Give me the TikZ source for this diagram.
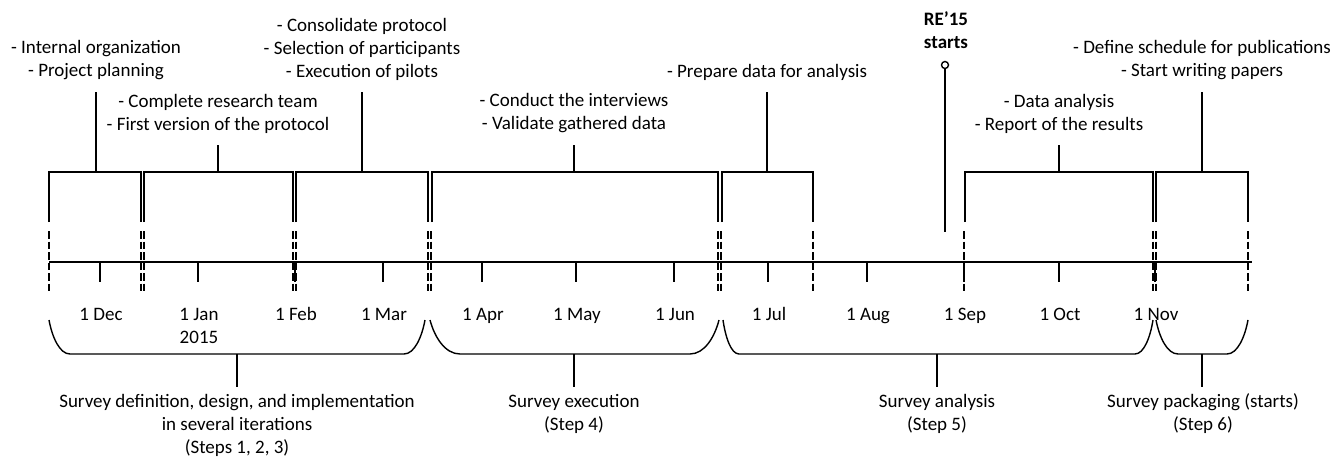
\documentclass[tikz,border=0pt]{standalone}
\usepackage{fontspec}
\setmainfont{Carlito}
\usetikzlibrary{calc}
\begin{document}
\begin{tikzpicture}[x=1pt,y=-1pt,line width=1.4pt,
  lbl/.style={align=center,inner sep=0pt,font=\fontsize{19}{23}\selectfont},
  mlbl/.style={align=center,inner sep=0pt,anchor=base,font=\fontsize{19}{23}\selectfont},
  dsh/.style={dash pattern=on 7.5pt off 3pt},
  tickline/.style={line width=1.4pt},
  bracketline/.style={line width=1.4pt},
  stemline/.style={line width=1.4pt}]
\useasboundingbox (0,0) rectangle (1342,460);

% axis
\coordinate (axL) at (49,262);
\coordinate (axR) at (1252,262);
\draw (axL) -- (axR);

% ticks and month labels
\foreach \x/\n/\t in {100/dec/1 Dec,295/feb/1 Feb,383/mar/1 Mar,482/apr/1 Apr,576/may/1 May,674/jun/1 Jun,768/jul/1 Jul,867/aug/1 Aug,964/sep/1 Sep,1059/oct/1 Oct,1155/nov/1 Nov}{
  \coordinate (tk\n) at (\x,262);
  \coordinate (tb\n) at (\x,282);
  \draw[tickline] (tk\n) -- (tb\n);
  \node[mlbl] (m\n) at (\x+1,320) {\t};
}
\coordinate (tkjan) at (198,262);
\coordinate (tbjan) at (198,282);
\draw[tickline] (tkjan) -- (tbjan);
\node[mlbl] (mjan) at (199,343) {1 Jan\\2015};

% dashed separators
\foreach \x [count=\i] in {49,141,144,293,296,428,431,718,721,813,964,1153,1156,1248}{
  \coordinate (da\i) at (\x,231);
  \coordinate (db\i) at (\x,292);
  \draw[dsh] (da\i) -- (db\i);
}

% top brackets: left, right, stem x, stem top y
\foreach \a/\b/\s/\h [count=\i] in {49/141/96/92,144/293/218/145,296/428/362/92,432/718/574/145,722/813/767/92,965/1153/1059/145,1156/1248/1202/92}{
  \coordinate (bl\i) at (\a,222);
  \coordinate (br\i) at (\b,222);
  \coordinate (bs\i) at (\s,172);
  \coordinate (bt\i) at (\s,\h);
  \draw[bracketline] (bl\i) |- (bs\i) -| (br\i);
  \draw[stemline] (bs\i) -- (bt\i);
}

% top labels
\node[lbl] (t1) at (96,60.5) {- Internal organization\\- Project planning};
\node[lbl] (t2) at (218,113.5) {- Complete research team\\- First version of the protocol};
\node[lbl] (t3) at (362,49) {- Consolidate protocol\\- Selection of participants\\- Execution of pilots};
\node[lbl] (t4) at (574,113.5) {- Conduct the interviews\\- Validate gathered data};
\node[lbl] (t5) at (767,72.5) {- Prepare data for analysis};
\node[lbl] (t6) at (1059,113.5) {- Data analysis\\- Report of the results};
\node[lbl] (t7) at (1202,60.5) {- Define schedule for publications\\- Start writing papers};

% RE'15 milestone
\node[lbl,font=\fontsize{19}{23}\selectfont\bfseries] (re) at (946,30) {RE’15\\starts};
\node[circle,draw,line width=1.4pt,minimum size=7pt,inner sep=0pt] (rec) at (945,65) {};
\coordinate (reb) at (945,232);
\draw (rec) -- (reb);

% bottom braces: left, right, left curve width, right curve width, stem x
\foreach \a/\b/\wl/\wr/\s [count=\i] in {49/425/21/21/237,430/719/30/29/574,723/1153/16/18/937,1156/1248/22/21/1202}{
  \coordinate (cl\i) at (\a,320);
  \coordinate (cr\i) at (\b,320);
  \coordinate (cs\i) at (\s,354);
  \coordinate (ce\i) at (\s,387);
  \draw (cl\i) .. controls ($(cl\i)+(0.15*\wl,17)$) and ($(cl\i)+(0.5*\wl,34)$) .. ($(cl\i)+(\wl,34)$)
        -- ($(cr\i)+(-\wr,34)$) .. controls ($(cr\i)+(-0.5*\wr,34)$) and ($(cr\i)+(-0.15*\wr,17)$) .. (cr\i);
  \draw (cs\i) -- (ce\i);
}

% bottom labels
\node[lbl] (s1) at (237,425) {Survey definition, design, and implementation\\in several iterations\\(Steps 1, 2, 3)};
\node[lbl] (s2) at (574,413.5) {Survey execution\\(Step 4)};
\node[lbl] (s3) at (937,413.5) {Survey analysis\\(Step 5)};
\node[lbl] (s4) at (1203,413.5) {Survey packaging (starts)\\(Step 6)};
\end{tikzpicture}
\end{document}
